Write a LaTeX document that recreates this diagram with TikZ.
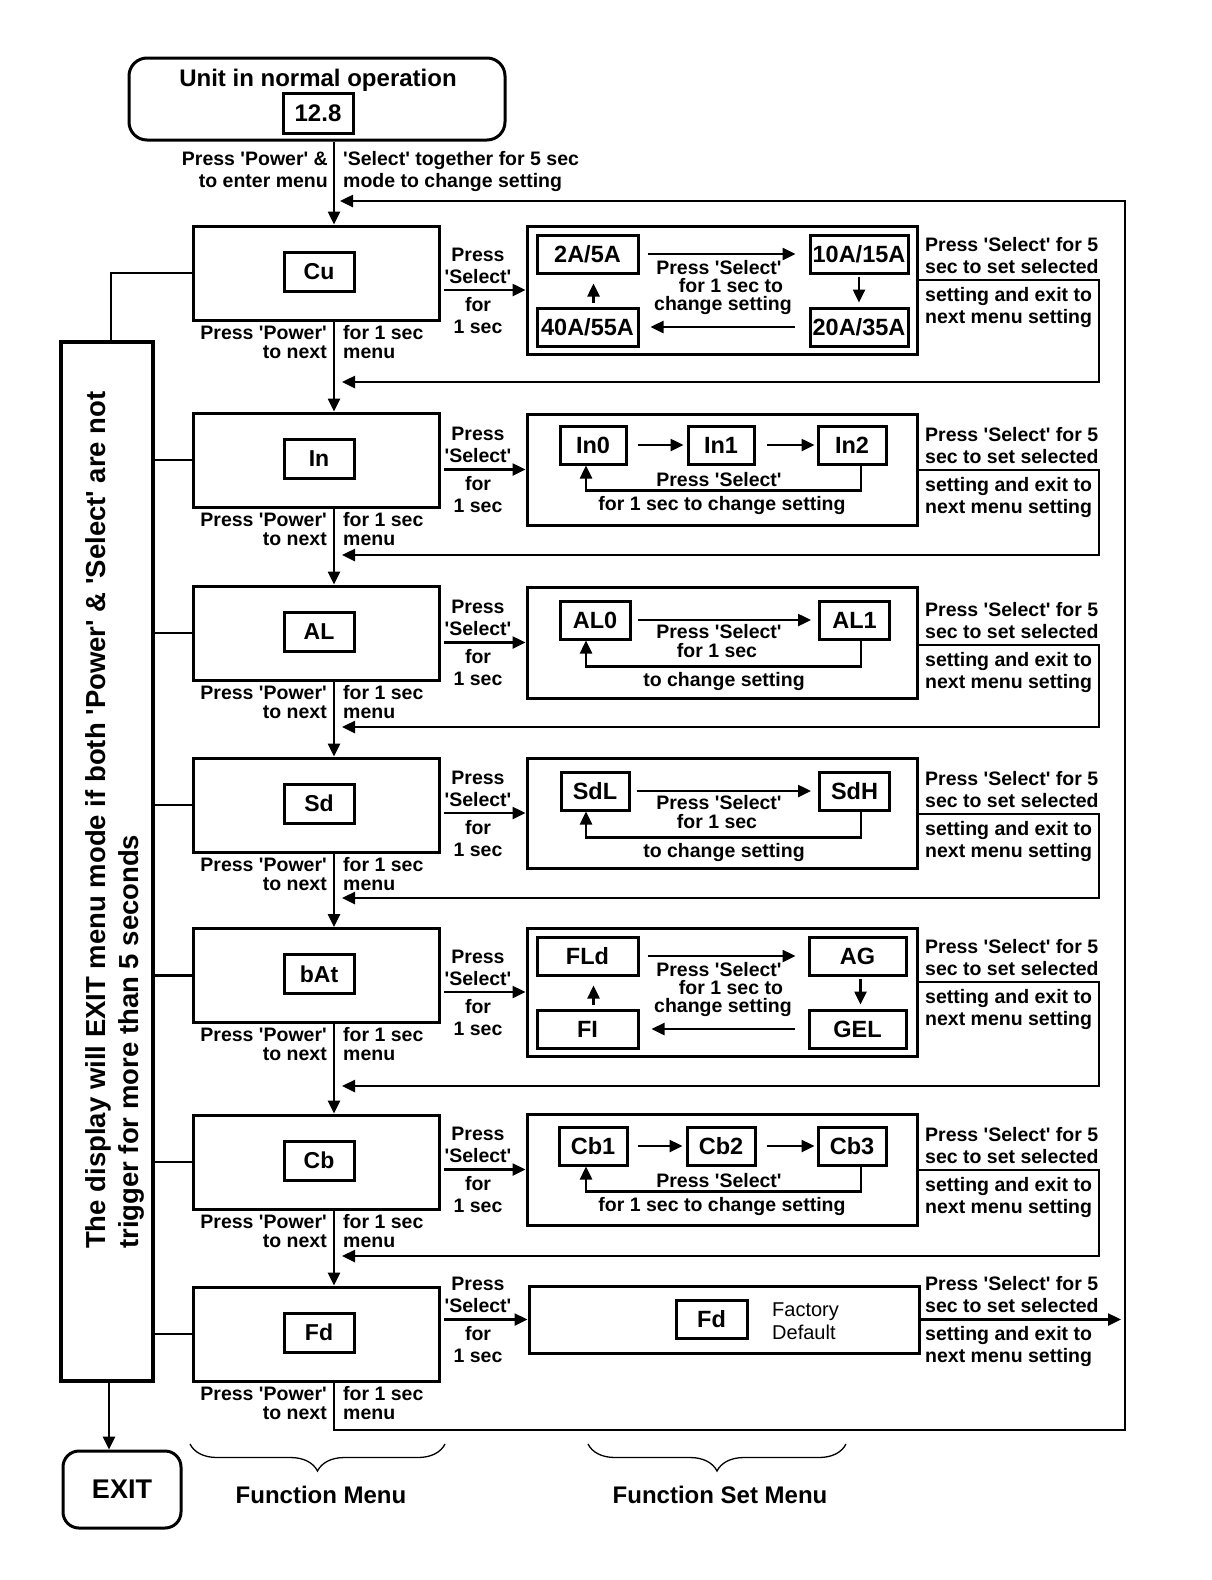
\documentclass[tikz,border=0pt]{standalone}
\usepackage{fontspec}
\setmainfont{Liberation Sans}
\newfontfamily\lsans{Liberation Sans}
\usetikzlibrary{arrows.meta,decorations.pathreplacing,calc}
\newcommand\fsz[1]{\fontsize{#1pt}{#1pt}\selectfont}
\newcommand\SelLab[2]{%
 \node[tc] (#1sa) at (478,#2-29) {Press};
 \node[tc] (#1sb) at (478,#2-7) {'Select'};
 \node[tc] (#1sc) at (478,#2+21) {for};
 \node[tc] (#1sd) at (478,#2+43) {1 sec};}
\newcommand\RightLab[2]{%
 \node[tl] (#1ra) at (925,#2-29) {Press 'Select' for 5};
 \node[tl] (#1rb) at (925,#2-7) {sec to set selected};
 \node[tl] (#1rc) at (925,#2+21) {setting and exit to};
 \node[tl] (#1rd) at (925,#2+43) {next menu setting};}
\newcommand\PowLab[2]{%
 \node[tr] (#1pa) at (327,#2+19) {Press 'Power'};
 \node[tr] (#1pb) at (327,#2+38) {to next};
 \node[tl] (#1pc) at (343,#2+19) {for 1 sec};
 \node[tl] (#1pd) at (343,#2+38) {menu};}
\begin{document}
\begin{tikzpicture}[x=1pt,y=-1pt,
 conn/.style={line width=2.5pt},
 arr/.style={conn,-{Triangle[length=13pt,width=12pt]}},
 fbox/.style={draw,line width=3pt,minimum width=246pt,minimum height=94pt,inner sep=0pt},
 flbl/.style={draw,line width=3pt,minimum width=70pt,minimum height=39pt,inner sep=0pt,
   font=\lsans\bfseries\fsz{23},text height=16.5pt,text depth=0pt},
 sbox/.style={draw,line width=3pt,minimum width=390pt,inner sep=0pt},
 vbox/.style={draw,line width=3pt,minimum height=38pt,inner sep=0pt,
   font=\lsans\bfseries\fsz{23.5},text height=16.8pt,text depth=0pt},
 txt/.style={inner sep=0pt,font=\lsans\bfseries\fsz{19.5}},
 tl/.style={txt,anchor=base west},
 tr/.style={txt,anchor=base east},
 tc/.style={txt,anchor=base},
 big/.style={inner sep=0pt,font=\lsans\bfseries\fsz{24},anchor=base},
 bracest/.style={decorate,decoration={brace,mirror,amplitude=27pt},line width=1.3pt}
]
\useasboundingbox (0,0) rectangle (1212,1580);
\fill[white] (0,0) rectangle (1212,1580);

% coordinates
\coordinate (col) at (334,140);
\coordinate (selx) at (444,0);

% top box
\node[draw,line width=3pt,rounded corners=18pt,minimum width=376pt,minimum height=82pt] (top) at (317,99) {};
\node[big] (toptxt) at (318,86) {Unit in normal operation};
\node[draw,line width=3pt,minimum width=70pt,minimum height=40pt,inner sep=0pt,
  font=\lsans\bfseries\fsz{24},text height=17pt,text depth=0pt] (val) at (318,113) {12.8};
\node[tr] (e1) at (328,165) {Press 'Power' \&};
\node[tr] (e2) at (328,187) {to enter menu};
\node[tl] (e3) at (343,165) {'Select' together for 5 sec};
\node[tl] (e4) at (343,187) {mode to change setting};

% function menu boxes
\node[fbox] (cu) at (316,273) {};    \node[flbl] (cul) at (319,271.5) {Cu};
\node[fbox] (in) at (316,460) {};    \node[flbl] (inl) at (319,458.5) {In};
\node[fbox] (al) at (316,633) {};    \node[flbl] (all) at (319,631.5) {AL};
\node[fbox] (sd) at (316,805) {};    \node[flbl] (sdl) at (319,803.5) {Sd};
\node[fbox] (bat) at (316,975.5) {}; \node[flbl] (batl) at (319,974) {bAt};
\node[fbox] (cb) at (316,1162) {};   \node[flbl] (cbl) at (319,1160.5) {Cb};
\node[fbox] (fd) at (316,1334) {};   \node[flbl] (fdl) at (319,1332.5) {Fd};

\PowLab{cu}{320}
\PowLab{in}{507}
\PowLab{al}{680}
\PowLab{sd}{852}
\PowLab{bat}{1022.5}
\PowLab{cb}{1209}
\PowLab{fd}{1381}

% down arrows
\draw[arr] (top.south -| col) -- (cu.north -| col);
\draw[arr] (cu.south -| col) -- (in.north -| col);
\draw[arr] (in.south -| col) -- (al.north -| col);
\draw[arr] (al.south -| col) -- (sd.north -| col);
\draw[arr] (sd.south -| col) -- (bat.north -| col);
\draw[arr] (bat.south -| col) -- (cb.north -| col);
\draw[arr] (cb.south -| col) -- (fd.north -| col);

% set menu boxes
\node[sbox,minimum height=128pt] (cuset) at (722,290) {};
\node[sbox,minimum height=111pt] (inset) at (722,469.5) {};
\node[sbox,minimum height=111pt] (alset) at (722,642.5) {};
\node[sbox,minimum height=110pt] (sdset) at (722,813) {};
\node[sbox,minimum height=128pt] (batset) at (722,992) {};
\node[sbox,minimum height=111pt] (cbset) at (722,1169.5) {};
\node[sbox,minimum height=67pt] (fdset) at (724,1319.5) {};

% select arrows and labels
\draw[arr] (cuset.west -| selx) -- (cuset.west);   \SelLab{cu}{290}
\draw[arr] (inset.west -| selx) -- (inset.west);   \SelLab{in}{469.5}
\draw[arr] (alset.west -| selx) -- (alset.west);   \SelLab{al}{642.5}
\draw[arr] (sdset.west -| selx) -- (sdset.west);   \SelLab{sd}{813}
\draw[arr] (batset.west -| selx) -- (batset.west); \SelLab{bat}{992}
\draw[arr] (cbset.west -| selx) -- (cbset.west);   \SelLab{cb}{1169.5}
\draw[arr] (fdset.west -| selx) -- (fdset.west);   \SelLab{fd}{1319.5}

% Cu set content
\node[vbox,minimum width=101pt] (cuA) at (587.5,254) {2A/5A};
\node[vbox,minimum width=98pt] (cuB) at (859,254) {10A/15A};
\node[vbox,minimum width=98pt] (cuC) at (859,327) {20A/35A};
\node[vbox,minimum width=101pt] (cuD) at (587.5,327) {40A/55A};
\draw[arr,shorten <=8pt,shorten >=13pt] (cuA) -- (cuB);
\draw[arr,shorten <=2pt,shorten >=4pt] (cuB) -- (cuC);
\draw[arr,shorten <=14pt,shorten >=11pt] (cuC) -- (cuD);
\draw[arr,shorten <=4pt,shorten >=9pt] ($(cuD.north)+(6,0)$) -- ($(cuA.south)+(6,0)$);
\node[tc] (cum1) at (719,274) {Press 'Select'};
\node[tc] (cum2) at (731,292) {for 1 sec to};
\node[tc] (cum3) at (723,310) {change setting};

% In set content
\node[vbox,minimum width=66pt] (in0) at (593,445) {In0};
\node[vbox,minimum width=66pt] (in1) at (721,445) {In1};
\node[vbox,minimum width=68pt] (in2) at (852,445) {In2};
\draw[arr,shorten <=10pt,shorten >=3pt] (in0) -- (in1);
\draw[arr,shorten <=11pt,shorten >=2pt] (in1) -- (in2);
\draw[arr] ($(in2.south)+(9,0)$) -- ++(0,25) -| ($(in0.south)+(-7,0)$);
\node[tc] (inm1) at (719,486) {Press 'Select'};
\node[tc] (inm2) at (722,510) {for 1 sec to change setting};

% AL set content
\node[vbox,minimum width=70pt] (al0) at (595,620) {AL0};
\node[vbox,minimum width=70pt] (al1) at (854.5,620) {AL1};
\draw[arr,shorten <=6pt,shorten >=7pt] (al0) -- (al1);
\draw[arr] ($(al1.south)+(6.5,0)$) -- ++(0,26) -| ($(al0.south)+(-9,0)$);
\node[tc] (alm1) at (719,638) {Press 'Select'};
\node[tc] (alm2) at (717,657) {for 1 sec};
\node[tc] (alm3) at (724,686) {to change setting};

% Sd set content
\node[vbox,minimum width=68pt] (sdL) at (595,791) {SdL};
\node[vbox,minimum width=70pt] (sdH) at (854.5,791) {SdH};
\draw[arr,shorten <=6pt,shorten >=7pt] (sdL) -- (sdH);
\draw[arr] ($(sdH.south)+(6.5,0)$) -- ++(0,26) -| ($(sdL.south)+(-9,0)$);
\node[tc] (sdm1) at (719,809) {Press 'Select'};
\node[tc] (sdm2) at (717,828) {for 1 sec};
\node[tc] (sdm3) at (724,857) {to change setting};

% bAt set content
\node[vbox,minimum width=101pt] (bA) at (587.5,956) {FLd};
\node[vbox,minimum width=97pt] (bB) at (857.5,956) {AG};
\node[vbox,minimum width=97pt] (bC) at (857.5,1029) {GEL};
\node[vbox,minimum width=101pt] (bD) at (587.5,1029) {FI};
\draw[arr,shorten <=8pt,shorten >=12pt] (bA) -- (bB);
\draw[arr,shorten <=2pt,shorten >=4pt] ($(bB.south)+(3,0)$) -- ($(bC.north)+(3,0)$);
\draw[arr,shorten <=13pt,shorten >=12pt] (bC) -- (bD);
\draw[arr,shorten <=4pt,shorten >=9pt] ($(bD.north)+(6,0)$) -- ($(bA.south)+(6,0)$);
\node[tc] (bm1) at (719,976) {Press 'Select'};
\node[tc] (bm2) at (731,994) {for 1 sec to};
\node[tc] (bm3) at (723,1012) {change setting};

% Cb set content
\node[vbox,minimum width=68pt] (cb1) at (593,1146) {Cb1};
\node[vbox,minimum width=68pt] (cb2) at (721,1146) {Cb2};
\node[vbox,minimum width=68pt] (cb3) at (852,1146) {Cb3};
\draw[arr,shorten <=9pt,shorten >=3pt] (cb1) -- (cb2);
\draw[arr,shorten <=10pt,shorten >=2pt] (cb2) -- (cb3);
\draw[arr] ($(cb3.south)+(9,0)$) -- ++(0,25) -| ($(cb1.south)+(-7,0)$);
\node[tc] (cbm1) at (719,1187) {Press 'Select'};
\node[tc] (cbm2) at (722,1211) {for 1 sec to change setting};

% Fd set content
\node[vbox,minimum width=71pt] (fdv) at (711.5,1319) {Fd};
\node[anchor=base west,inner sep=0pt,font=\lsans\fsz{20}] (fac) at (772,1316) {Factory};
\node[anchor=base west,inner sep=0pt,font=\lsans\fsz{20}] (def) at (772,1339) {Default};

% right-hand labels
\RightLab{cu}{280}
\RightLab{in}{470}
\RightLab{al}{645}
\RightLab{sd}{814}
\RightLab{bat}{982}
\RightLab{cb}{1170}
\RightLab{fd}{1319.5}

% return loops
\coordinate (cuR) at (1099,382);
\coordinate (inR) at (1099,555);
\coordinate (alR) at (1099,727);
\coordinate (sdR) at (1099,898);
\coordinate (batR) at (1099,1086);
\coordinate (cbR) at (1099,1256);
\draw[arr] ($(cuset.east)+(0,-10)$) -| (cuR) -- ($(cuR -| col)+(8,0)$);
\draw[arr] ($(inset.east)+(0,0.5)$) -| (inR) -- ($(inR -| col)+(8,0)$);
\draw[arr] ($(alset.east)+(0,2.5)$) -| (alR) -- ($(alR -| col)+(8,0)$);
\draw[arr] ($(sdset.east)+(0,1)$) -| (sdR) -- ($(sdR -| col)+(8,0)$);
\draw[arr] ($(batset.east)+(0,-10)$) -| (batR) -- ($(batR -| col)+(8,0)$);
\draw[arr] ($(cbset.east)+(0,0.5)$) -| (cbR) -- ($(cbR -| col)+(8,0)$);

% outer loop
\coordinate (botR) at (1125,1430);
\coordinate (topR) at (1125,201);
\draw[arr] (fd.south -| col) |- (botR) -- (topR) -- ($(topR -| col)+(6,0)$);
\draw[arr] (fdset.east) -- ($(fdset.east -| botR)+(-4,0)$);

% left box
\node[draw,line width=3.5pt,minimum width=92pt,minimum height=1039pt,inner sep=0pt] (lbox) at (107,861.5) {};
\node[rotate=90,anchor=base west,inner sep=0pt,font=\lsans\bfseries\fsz{27.5}] (lt1) at (105,1249)
  {The display will EXIT menu mode if both 'Power' \& 'Select' are not};
\node[rotate=90,anchor=base west,inner sep=0pt,font=\lsans\bfseries\fsz{27.5}] (lt2) at (138,1249)
  {trigger for more than 5 seconds};
\draw[conn] (cu.west) -| ($(lbox.north)+(4,0)$);
\draw[conn] (lbox.east |- in.west) -- (in.west);
\draw[conn] (lbox.east |- al.west) -- (al.west);
\draw[conn] (lbox.east |- sd.west) -- (sd.west);
\draw[conn] (lbox.east |- bat.west) -- (bat.west);
\draw[conn] (lbox.east |- cb.west) -- (cb.west);
\draw[conn] (lbox.east |- fd.west) -- (fd.west);

% exit
\node[draw,line width=3pt,rounded corners=16pt,minimum width=118pt,minimum height=77pt,inner sep=0pt,
  font=\lsans\bfseries\fsz{27}] (exit) at (122,1489.5) {EXIT};
\coordinate (exS) at ($(lbox.south)+(2,0)$);
\draw[arr] (exS) -- (exS |- exit.north);

% braces and captions
\coordinate (b1a) at (190,1444); \coordinate (b1b) at (445,1444);
\coordinate (b2a) at (588,1444); \coordinate (b2b) at (846,1444);
\draw[bracest] (b1a) -- (b1b);
\draw[bracest] (b2a) -- (b2b);
\node[big] (cap1) at (321,1503) {Function Menu};
\node[big] (cap2) at (720,1503) {Function Set Menu};
\end{tikzpicture}
\end{document}
